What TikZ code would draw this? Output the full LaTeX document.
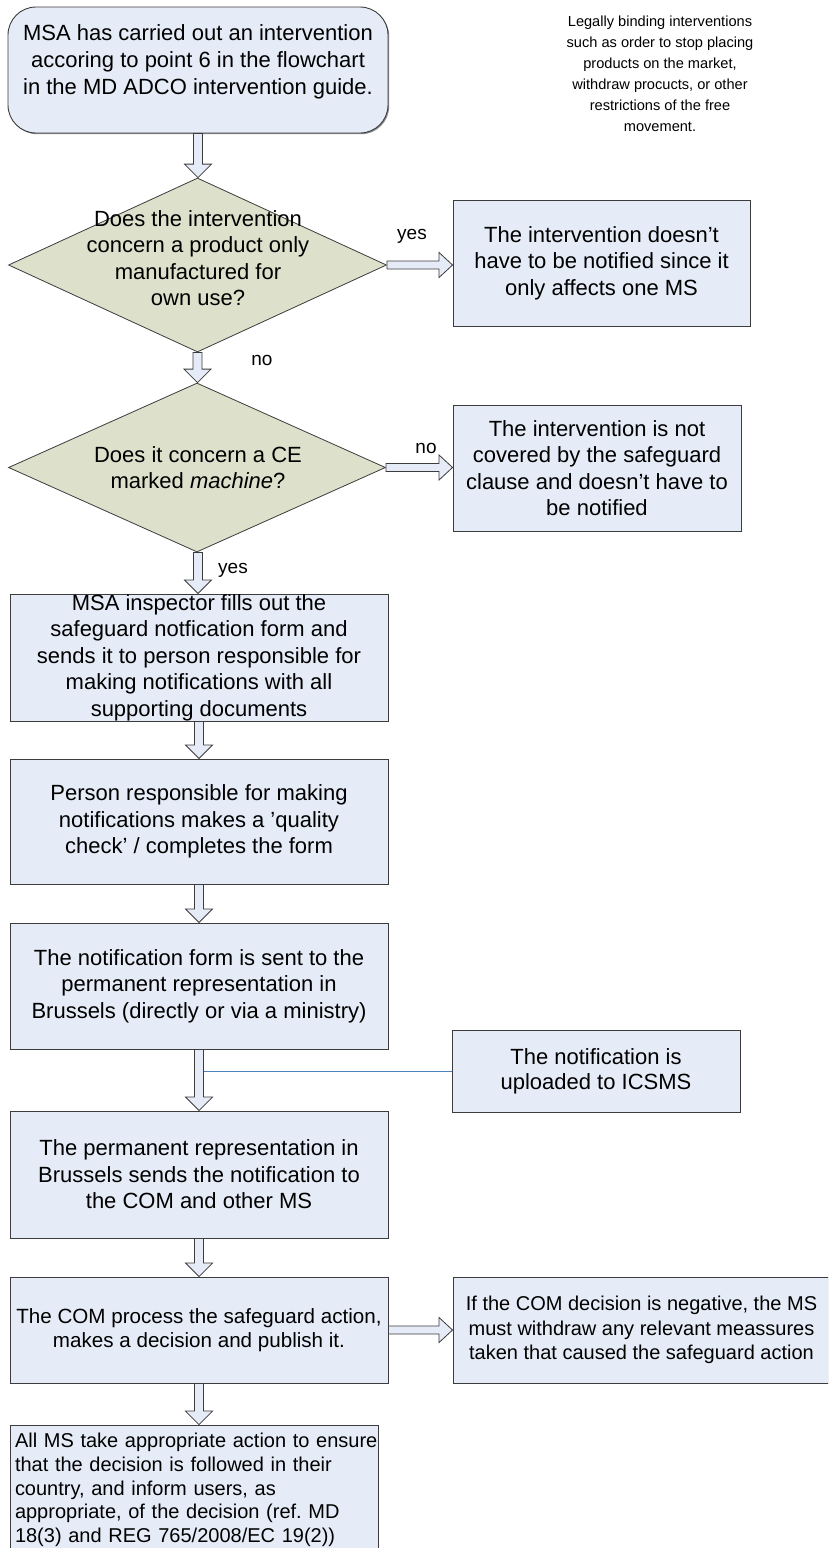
\documentclass[tikz,border=0pt]{standalone}
\usepackage{fontspec}
\setmainfont{Liberation Sans}
\usetikzlibrary{calc,shadows,shapes.geometric}
\definecolor{boxfill}{RGB}{230,236,247}
\definecolor{dmdfill}{RGB}{221,224,203}
\definecolor{edge}{RGB}{60,60,60}
\definecolor{linkblue}{RGB}{79,129,189}
\newcommand\dnblk[2]{%
  \draw[blk] let \p1=(#1), \p2=(#2) in
  (\x1-4.5pt,\y1) -- (\x1+4.5pt,\y1) -- (\x1+4.5pt,\y2+13.5pt) -- (\x1+13.5pt,\y2+13.5pt)
  -- (\x1,\y2) -- (\x1-13.5pt,\y2+13.5pt) -- (\x1-4.5pt,\y2+13.5pt) -- cycle;}
\newcommand\rtblk[2]{%
  \draw[blk] let \p1=(#1), \p2=(#2) in
  (\x1,\y1+4pt) -- (\x2-13.5pt,\y1+4pt) -- (\x2-13.5pt,\y1+12.5pt) -- (\x2,\y1)
  -- (\x2-13.5pt,\y1-12.5pt) -- (\x2-13.5pt,\y1-4pt) -- (\x1,\y1-4pt) -- cycle;}
\tikzset{
  shd/.style={drop shadow={shadow xshift=1.2pt, shadow yshift=-1.2pt, fill=black!45, opacity=1}},
  box/.style={draw=edge, line width=0.9pt, fill=boxfill, shd, inner sep=0pt, align=center},
  dmd/.style={draw=edge, line width=0.8pt, fill=dmdfill, diamond, inner sep=0pt},
  txt/.style={inner sep=0pt, align=center},
  big/.style={font=\fontsize{22}{26.5}\selectfont},
  lbl/.style={inner sep=0pt, font=\fontsize{19}{22}\selectfont},
  blk/.style={draw=edge, line width=0.8pt, fill=boxfill},
}
\begin{document}
\frenchspacing
\begin{tikzpicture}[x=1pt,y=-1pt]
\useasboundingbox (0,0) rectangle (828,1548);
\fill[white] (0,0) rectangle (828,1548);
\clip (0,0) rectangle (828,1548);

% start
\node[box, rounded corners=28pt, minimum width=380pt, minimum height=126pt] (start) at (198,70) {};
\node[txt, font=\fontsize{22}{27}\selectfont] (starttxt) at (198,62)
  {MSA has carried out an intervention\\accoring to point 6 in the flowchart\\in the MD ADCO intervention guide.};

\node[txt, font=\fontsize{14.6}{21}\selectfont] (legal) at (660,74)
  {Legally binding interventions\\such as order to stop placing\\products on the market,\\withdraw procucts, or other\\restrictions of the free\\movement.};

% decision 1
\node[dmd, minimum width=378pt, minimum height=174pt] (d1) at (197.5,265) {};
\node[txt, big] (d1txt) at (198,258)
  {Does the intervention\\concern a product only\\manufactured for\\own use?};
\node[box, minimum width=297pt, minimum height=126pt, big] (b2) at (601.5,263)
  {The intervention doesn’t\\have to be notified since it\\only affects one MS};
\node[lbl] (yes1) at (412,236) {yes};
\node[lbl] (no1) at (262,360) {no};

% decision 2
\node[dmd, minimum width=377pt, minimum height=169pt] (d2) at (197,467.5) {};
\node[txt, big] (d2txt) at (198,467.5) {Does it concern a CE\\marked \textit{machine}?};
\node[box, minimum width=288pt, minimum height=126pt, big] (b3) at (597,468)
  {The intervention is not\\covered by the safeguard\\clause and doesn’t have to\\be notified};
\node[lbl] (no2) at (426,448) {no};
\node[lbl] (yes2) at (233,570) {yes};

% column
\node[box, minimum width=378pt, minimum height=127pt, big] (b4) at (199,657.5)
  {MSA inspector fills out the\\safeguard notfication form and\\sends it to person responsible for\\making notifications with all\\supporting documents};
\node[box, minimum width=378pt, minimum height=125pt, big] (b5) at (199,821.5)
  {Person responsible for making\\notifications makes a ’quality\\check’ / completes the form};
\node[box, minimum width=378pt, minimum height=126pt, big] (b6) at (199,986)
  {The notification form is sent to the\\permanent representation in\\Brussels (directly or via a ministry)};
\node[box, minimum width=288pt, minimum height=82pt, font=\fontsize{22}{25}\selectfont] (ics) at (596,1071)
  {The notification is\\uploaded to ICSMS};
\node[box, minimum width=378pt, minimum height=127pt, big] (b7) at (199,1174.5)
  {The permanent representation in\\Brussels sends the notification to\\the COM and other MS};
\node[box, minimum width=378pt, minimum height=106pt, font=\fontsize{20.6}{24}\selectfont] (b8) at (199,1330)
  {The COM process the safeguard action,\\makes a decision and publish it.};
\node[box, minimum width=377pt, minimum height=106pt, font=\fontsize{20}{24.5}\selectfont] (b9) at (641.5,1330)
  {If the COM decision is negative, the MS\\must withdraw any relevant meassures\\taken that caused the safeguard action};
\node[box, minimum width=368pt, minimum height=135pt] (b10) at (194,1492.5) {};
\node[inner sep=0pt, align=left, text width=380pt, font=\fontsize{20}{23.7}\selectfont] (b10txt) at (205,1490)
  {\mbox{All MS take appropriate action to ensure}\\\mbox{that the decision is followed in their}\\\mbox{country, and inform users, as}\\\mbox{appropriate, of the decision (ref. MD}\\\mbox{18(3) and REG 765/2008/EC 19(2))}};

% connectors
\dnblk{start.south}{d1.north}
\dnblk{d1.south}{d2.north}
\dnblk{$(d2.south)+(1,0)$}{b4.north}
\dnblk{b4.south}{b5.north}
\dnblk{b5.south}{b6.north}
\dnblk{b6.south}{b7.north}
\dnblk{b7.south}{b8.north}
\dnblk{b8.south}{b10.north -| b8.south}
\rtblk{d1.east}{b2.west}
\rtblk{d2.east}{b3.west}
\rtblk{b8.east}{b9.west}
\coordinate (tap) at ($(b6.south)+(4.5,22)$);
\draw[linkblue, line width=0.8pt] (tap) -- (tap -| ics.west);
\end{tikzpicture}
\end{document}
